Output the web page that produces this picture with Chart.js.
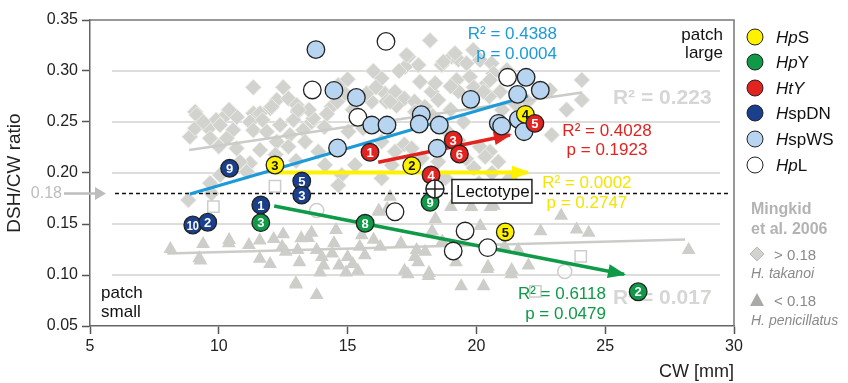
<!DOCTYPE html>
<html><head><meta charset="utf-8">
<script src="https://cdn.jsdelivr.net/npm/chart.js@4"></script>
<style>
html,body{margin:0;padding:0;background:#fff;}
#wrap{position:relative;width:848px;height:383px;overflow:hidden;font-family:"Liberation Sans",Arial,sans-serif;}
#c{position:absolute;left:0;top:0;}
.li{position:absolute;white-space:nowrap;transform:translateY(-50%);line-height:1;}
.dot{position:absolute;width:15px;height:15px;border-radius:50%;border:1.5px solid #222;transform:translate(-50%,-50%);}
</style></head><body>
<div id="wrap"><canvas id="c" width="848" height="383"></canvas><div id="legend"></div></div>
<script>
const FONT = '"Liberation Sans", Arial, sans-serif';

// ---------- data (CW mm, DSH/CW ratio) ----------
const HpS = [[12.18,0.2078],[17.49,0.2072],[21.90,0.2575],[21.12,0.1422]];
const HpS_num = ['3','2','4','5'];
const HpY = [[11.63,0.1513],[15.68,0.1507],[18.20,0.1713],[26.28,0.0836]];
const HpY_num = ['3','8','9','2'];
const HtY = [[15.87,0.2203],[19.10,0.2324],[19.34,0.2186],[18.24,0.1980],[22.27,0.2487]];
const HtY_num = ['1','3','6','4','5'];
const HspDN = [[10.42,0.2046],[13.22,0.1921],[13.22,0.1784],[11.63,0.1686],[8.99,0.1490],[9.57,0.1517]];
const HspDN_num = ['9','5','3','1','10','2'];
const HspWS = [[13.77,0.321],[14.47,0.281],[15.34,0.274],[15.94,0.247],[16.53,0.247],[14.61,0.2245],
  [17.86,0.2572],[17.78,0.248],[18.56,0.247],[18.48,0.2242],[19.78,0.2722],[21.93,0.2938],[21.60,0.2771],
  [22.48,0.2811],[20.85,0.2487],[20.98,0.246],[21.63,0.2526],[21.85,0.2405]];
const HpL = [[16.49,0.329],[13.63,0.2814],[15.40,0.2546],[21.21,0.2938],[16.84,0.162],[19.56,0.1431],[19.10,0.1235],[20.44,0.1268]];
const lectotype = [[18.39,0.1843]];

// Mingkid et al. 2006 background
const takanoi = [[11.34,0.284],[12.5,0.284],[9.08,0.260],[12.25,0.2716],[12.7,0.273],[13.02,0.2667],[11.34,0.2585],[11.6,0.2585],
  [12.0,0.2634],[13.07,0.26],[10.16,0.254],[9.9,0.252],[17.36,0.314],[17.75,0.3059],[17.23,0.304],[18.65,0.3059],[19.04,0.314],
  [19.3,0.311],[16.32,0.2928],[17.81,0.2895],[16.45,0.278],[16.84,0.2797],[17.2,0.273],[17.6,0.27],[18.26,0.2797],[18.52,0.2716],
  [19.23,0.2912],[19.3,0.28],[15.94,0.27],[16.5,0.27],[16.9,0.266],[14.64,0.2863],[14.9,0.278],[14.38,0.265],[17.62,0.26],
  [18.0,0.265],[18.3,0.256],[19.0,0.262],[19.88,0.3206],[20.14,0.3108],[19.62,0.3075],[20.59,0.3075],[20.66,0.2977],
  [19.75,0.2944],[20.4,0.288],[19.9,0.284],[20.92,0.2797],[20.5,0.275],[24.09,0.2912],[24.09,0.2716],[22.86,0.2814],
  [21.18,0.301],[9.14,0.2569],[8.88,0.2356],[9.08,0.2438],[9.6,0.2438],[10.05,0.247],[10.56,0.2422],[10.31,0.234],
  [9.66,0.234],[10.69,0.2242],[10.7,0.255],[11.21,0.250],[11.34,0.242],[11.7,0.252],[11.86,0.2405],[12.38,0.247],
  [12.76,0.2373],[12.9,0.252],[13.28,0.2422],[12.25,0.2307],[12.7,0.2258],[11.21,0.2095],[11.08,0.2013],[10.05,0.198],
  [9.66,0.190],[8.82,0.1735],[9.72,0.180],[10.82,0.211],[11.6,0.2225],[13.6,0.25],[14.1,0.245],[13.35,0.2307],[13.86,0.221],
  [14.12,0.2078],[14.77,0.198],[14.64,0.188],[15.29,0.2078],[16.32,0.1948],[16.71,0.2078],[16.84,0.221],[17.2,0.228],
  [16.58,0.2438],[15.6,0.2438],[15.03,0.2405],[16.32,0.2307],[17.49,0.2242],[17.88,0.2144],[18.52,0.211],[22.92,0.2373],
  [20.14,0.2258],[20.53,0.221],[20.34,0.216],[20.85,0.211],[19.9,0.205],[20.6,0.200],[21.3,0.195],[18.8,0.195],[20.1,0.190],
  [17.29,0.3157],[18.72,0.309],[19.17,0.3173],[20.53,0.2912],[20.27,0.2797],[18.2,0.33],[15.74,0.2781],[16.1,0.284],
  [16.65,0.270],[13.67,0.2536],[13.5,0.262],[14.2,0.258],[14.6,0.27],[15.2,0.262],[15.5,0.255],[12.05,0.265],[13.09,0.2618],
  [10.4,0.262],[9.4,0.25],[10.0,0.226],[12.2,0.218],[13.0,0.212],[18.9,0.24],[19.5,0.25],[19.3,0.232],[21.0,0.262],
  [21.5,0.268],[22.0,0.27],[23.5,0.262],[19.6,0.214],[19.0,0.285],[18.4,0.288],[17.0,0.30],[16.0,0.30],[15.0,0.292]];
const penicillatus = [[8.12,0.1254],[9.39,0.1305],[9.29,0.1143],[10.39,0.1311],[11.17,0.1295],[11.59,0.1338],[12.13,0.1352],
  [11.59,0.116],[11.99,0.1109],[12.46,0.1278],[12.6,0.1227],[13.06,0.1244],[13.13,0.1126],[13.47,0.1362],[13.6,0.1413],
  [13.8,0.1244],[14.0,0.1177],[14.07,0.1092],[13.93,0.1025],[14.4,0.121],[14.47,0.1311],[14.67,0.1092],[15.0,0.1177],
  [15.2,0.1109],[15.4,0.1041],[15.47,0.1278],[15.67,0.1193],[16.01,0.1345],[16.27,0.1278],[16.21,0.1632],[16.54,0.1649],
  [17.07,0.1311],[17.21,0.1041],[17.34,0.1007],[17.61,0.1177],[17.68,0.1244],[17.74,0.1126],[18.01,0.1227],[18.14,0.099],
  [18.41,0.1548],[18.28,0.143],[18.68,0.1328],[19.01,0.1666],[19.21,0.1126],[19.41,0.0889],[19.81,0.1666],[20.15,0.148],
  [20.28,0.0889],[20.42,0.1058],[20.55,0.1666],[21.09,0.1278],[21.62,0.1244],[22.02,0.1092],[21.35,0.1007],[22.49,0.143],
  [23.29,0.1582],[23.89,0.1446],[24.36,0.1413],[28.24,0.1244],[13.8,0.0805],[13.0,0.0906],[14.94,0.1024],[16.65,0.1768],
  [16.22,0.162],[14.55,0.1441],[15.55,0.139],[9.24,0.1164],[12.99,0.0918],[10.4,0.1343],[12.5,0.14],[13.2,0.136],
  [20.68,0.168],[21.37,0.105],[20.45,0.108],[18.16,0.102]];
const mingkidSquares = [[9.79,0.167],[12.18,0.187],[24.05,0.1183],[22.29,0.0839]];
const mingkidCircles = [[13.8,0.1632],[23.43,0.1034]];

// regression / trend lines (start, end)
const fitHspWS = [[8.88,0.1794],[22.0,0.2755]];
const fitHtY = [[16.19,0.2105],[21.30,0.2373]];
const fitHpS = [[12.18,0.2005],[22.0,0.2005]];
const fitHpY = [[12.15,0.1676],[25.73,0.1007]];
const trendTakanoi = [[8.85,0.2225],[24.1,0.279]];
const trendPenicillatus = [[8.0,0.121],[28.1,0.1348]];
const threshold = [[5.97,0.18],[29.85,0.18]];

const xTicks = [5,10,15,20,25,30];
const yTicks = [0.05,0.10,0.15,0.20,0.25,0.30,0.35];
const gridY = [0.10,0.15,0.20,0.25,0.30];

const C = {yellow:'#fff200', green:'#0f9a48', red:'#e2231f', dn:'#1a3f8d', ws:'#b7d4f0', blue:'#1d9ad8', gray:'#d2d2ce'};

const pts = a => a.map(([x,y]) => ({x,y}));

function circleDs(data, color, nums, numColor, order){
  return {data:pts(data), pointStyle:'circle', pointRadius:8.8, pointHoverRadius:8.8, backgroundColor:color,
    borderColor:'#222', borderWidth:1.3, nums, numColor, order};
}
function lineDs(data, color, width, order, extra){
  return Object.assign({data:pts(data), showLine:true, pointRadius:0, pointHoverRadius:0, borderColor:color,
    borderWidth:width, fill:false, order}, extra||{});
}

const datasets = [
  lineDs(trendTakanoi,'#cbcbc8',2.5,97),
  lineDs(trendPenicillatus,'#cbcbc8',2.5,97),
  {data:pts(takanoi), pointStyle:'rectRot', pointRadius:8, backgroundColor:C.gray, borderColor:'#ebebe8', borderWidth:1, order:100},
  {data:pts(penicillatus), pointStyle:'triangle', pointRadius:8, backgroundColor:'#cdcdc9', borderWidth:0, borderColor:'#cdcdc9', order:99},
  {data:pts(mingkidSquares), pointStyle:'rect', pointRadius:8, backgroundColor:'rgba(255,255,255,0.6)', borderColor:'#cdcdcd', borderWidth:1.5, order:98},
  {data:pts(mingkidCircles), pointStyle:'circle', pointRadius:7, backgroundColor:'rgba(255,255,255,0.6)', borderColor:'#cdcdcd', borderWidth:1.5, order:98},
  lineDs(threshold,'#111',1.5,96,{borderDash:[4,3]}),
  lineDs(fitHspWS,C.blue,3,90),
  lineDs(fitHpS,C.yellow,4,89,{arrow:true}),
  lineDs(fitHtY,C.red,3.5,88,{arrow:true}),
  lineDs(fitHpY,C.green,3.5,87,{arrow:true}),
  circleDs(HpL,'#ffffff',null,null,50),
  circleDs(HspWS,C.ws,null,null,49),
  circleDs(HspDN,C.dn,HspDN_num,'#fff',48),
  circleDs(HpY,C.green,HpY_num,'#fff',47),
  circleDs(HpS,C.yellow,HpS_num,'#111',46),
  circleDs(HtY,C.red,HtY_num,'#fff',45),
  {data:pts(lectotype), pointStyle:'circle', pointRadius:9, backgroundColor:'#fff', borderColor:'#222', borderWidth:1.5, order:10, lecto:true}
];

const texts = [
  {x:23.13,y:0.3363,t:'R² = 0.4388',c:C.blue,a:'right'},
  {x:23.13,y:0.3167,t:'p = 0.0004',c:C.blue,a:'right'},
  {x:25.07,y:0.2412,t:'R² = 0.4028',c:C.red,a:'center'},
  {x:25.07,y:0.2225,t:'p = 0.1923',c:C.red,a:'center'},
  {x:24.29,y:0.1902,t:'R² = 0.0002',c:'#f5e400',a:'center'},
  {x:24.29,y:0.1706,t:'p = 0.2747',c:'#f5e400',a:'center'},
  {x:25.03,y:0.0814,t:'R² = 0.6118',c:C.green,a:'right'},
  {x:25.03,y:0.0618,t:'p = 0.0479',c:C.green,a:'right'},
  {x:29.57,y:0.3353,t:'patch',c:'#111',a:'right'},
  {x:29.57,y:0.3176,t:'large',c:'#111',a:'right'},
  {x:5.43,y:0.0824,t:'patch',c:'#111',a:'left'},
  {x:5.43,y:0.0637,t:'small',c:'#111',a:'left'}
];
const bigTexts = [
  {x:25.30,y:0.2735,t:'R² = 0.223'},
  {x:25.30,y:0.0775,t:'R² = 0.017'}
];

const deco = {
  id:'deco',
  beforeDatasetsDraw(chart){
    const {ctx, chartArea:a, scales:{x,y}} = chart;
    ctx.save();
    ctx.strokeStyle='#dddddb'; ctx.lineWidth=2;
    gridY.forEach(v=>{const py=y.getPixelForValue(v); ctx.beginPath(); ctx.moveTo(a.left+22,py); ctx.lineTo(a.right-14,py); ctx.stroke();});
    ctx.strokeStyle='#777'; ctx.lineWidth=1.5;
    ctx.beginPath(); ctx.moveTo(a.left,a.top); ctx.lineTo(a.right,a.top); ctx.lineTo(a.right,a.bottom); ctx.stroke();
    ctx.font='bold 21px '+FONT; ctx.fillStyle='#d6d6d4'; ctx.textAlign='left'; ctx.textBaseline='middle';
    bigTexts.forEach(b=>ctx.fillText(b.t, x.getPixelForValue(b.x), y.getPixelForValue(b.y)));
    ctx.restore();
  },
  afterDatasetDraw(chart,args){
    const ds = chart.data.datasets[args.index];
    const ctx = chart.ctx; const els = args.meta.data;
    ctx.save();
    if (ds.arrow && els.length>1){
      const p0=els[els.length-2], p1=els[els.length-1];
      const ang=Math.atan2(p1.y-p0.y,p1.x-p0.x), L=16, W=7;
      ctx.fillStyle=ds.borderColor; ctx.beginPath();
      ctx.moveTo(p1.x+2,p1.y+2*Math.sin(ang));
      ctx.lineTo(p1.x-L*Math.cos(ang)-W*Math.sin(ang), p1.y-L*Math.sin(ang)+W*Math.cos(ang));
      ctx.lineTo(p1.x-L*Math.cos(ang)+W*Math.sin(ang), p1.y-L*Math.sin(ang)-W*Math.cos(ang));
      ctx.closePath(); ctx.fill();
    }
    if (ds.nums){
      ctx.font='bold 13px '+FONT; ctx.fillStyle=ds.numColor; ctx.textAlign='center'; ctx.textBaseline='middle';
      els.forEach((e,i)=>{
        const t=ds.nums[i];
        if (t.length>1){ ctx.save(); ctx.translate(e.x,e.y+1); ctx.scale(0.85,1); ctx.fillText(t,0,0); ctx.restore(); }
        else ctx.fillText(t, e.x, e.y+1);
      });
    }
    if (ds.lecto){
      const e=els[0]; const r=9;
      ctx.strokeStyle='#222'; ctx.lineWidth=1.5; ctx.beginPath();
      ctx.moveTo(e.x-r,e.y); ctx.lineTo(e.x+r,e.y); ctx.moveTo(e.x,e.y-r); ctx.lineTo(e.x,e.y+r); ctx.stroke();
      ctx.fillStyle='#fff'; ctx.fillRect(e.x+17,e.y-9.5,80,23.5); ctx.strokeRect(e.x+17,e.y-9.5,80,23.5);
      ctx.fillStyle='#111'; ctx.font='17px '+FONT; ctx.textAlign='left'; ctx.textBaseline='middle';
      ctx.fillText('Lectotype', e.x+21, e.y+3);
    }
    ctx.restore();
  },
  afterDatasetsDraw(chart){
    const {ctx, scales:{x,y}} = chart;
    ctx.save(); ctx.font='17px '+FONT; ctx.textBaseline='middle';
    texts.forEach(t=>{ctx.fillStyle=t.c; ctx.textAlign=t.a; ctx.fillText(t.t, x.getPixelForValue(t.x), y.getPixelForValue(t.y));});
    ctx.restore();
  },
  afterDraw(chart){
    const {ctx, chartArea:a, scales:{y}} = chart;
    const py = y.getPixelForValue(0.18);
    ctx.save();
    ctx.fillStyle='#bdbdbb'; ctx.strokeStyle='#bdbdbb'; ctx.font='16px '+FONT; ctx.textAlign='right'; ctx.textBaseline='middle';
    ctx.fillText('0.18', a.left-28, py);
    ctx.lineWidth=2.5; ctx.beginPath(); ctx.moveTo(a.left-26,py); ctx.lineTo(a.left+7,py); ctx.stroke();
    ctx.beginPath(); ctx.moveTo(a.left+16,py); ctx.lineTo(a.left+5,py-6.5); ctx.lineTo(a.left+5,py+6.5); ctx.closePath(); ctx.fill();
    ctx.restore();
  }
};

new Chart(document.getElementById('c'), {
  type:'scatter',
  data:{datasets},
  plugins:[deco],
  options:{
    responsive:false, animation:false, events:[],
    layout:{padding:{top:20,right:114,left:0,bottom:0}},
    plugins:{legend:{display:false}, tooltip:{enabled:false}},
    scales:{
      x:{type:'linear', min:5, max:30, afterBuildTicks:s=>{s.ticks=xTicks.map(v=>({value:v}));},
        ticks:{color:'#222', font:{family:FONT,size:16}, padding:3, maxRotation:0},
        grid:{drawOnChartArea:false, drawTicks:true, tickLength:8, tickColor:'#555', tickWidth:1.5},
        border:{color:'#666', width:1.5},
        title:{display:true, text:'CW [mm]', align:'end', color:'#222', font:{family:FONT,size:18}, padding:{top:0,bottom:0}},
        afterFit:s=>{s.height=57;}},
      y:{type:'linear', min:0.05, max:0.35, afterBuildTicks:s=>{s.ticks=yTicks.map(v=>({value:v}));},
        ticks:{color:'#222', font:{family:FONT,size:16}, padding:4, callback:v=>Number(v).toFixed(2)},
        grid:{drawOnChartArea:false, drawTicks:true, tickLength:8, tickColor:'#555', tickWidth:1.5},
        border:{color:'#666', width:1.5},
        title:{display:true, text:'DSH/CW ratio', color:'#222', font:{family:FONT,size:19}, padding:{top:3,bottom:0}},
        afterFit:s=>{s.width=90;}}
    }
  }
});

// ---------- legend ----------
const legendItems = [
  {html:'<i>Hp</i>S', color:C.yellow},
  {html:'<i>Hp</i>Y', color:C.green},
  {html:'<i>HtY</i>', color:C.red},
  {html:'<i>H</i>spDN', color:C.dn},
  {html:'<i>H</i>spWS', color:C.ws},
  {html:'<i>Hp</i>L', color:'#fff'}
];
const legendY = [37,62,88,113,139,165];
const lg = document.getElementById('legend');
let h='';
legendItems.forEach((it,i)=>{
  h+=`<div class="dot" style="left:755px;top:${legendY[i]}px;background:${it.color}"></div>`;
  h+=`<div class="li" style="left:776px;top:${legendY[i]}px;font-size:17px;color:#111">${it.html}</div>`;
});
h+=`<div class="li" style="left:751px;top:209px;font-size:16px;font-weight:bold;color:#b3b3b3">Mingkid</div>`;
h+=`<div class="li" style="left:751px;top:229px;font-size:16px;font-weight:bold;color:#b3b3b3">et al. 2006</div>`;
h+=`<svg style="position:absolute;left:749px;top:246px" width="16" height="16"><polygon points="8,1 15,8 8,15 1,8" fill="#d2d2ce" stroke="#b9b9b6" stroke-width="1"/></svg>`;
h+=`<div class="li" style="left:774px;top:254px;font-size:15px;color:#8a8a8a">&gt; 0.18</div>`;
h+=`<div class="li" style="left:751px;top:273px;font-size:14px;font-style:italic;color:#8a8a8a">H. takanoi</div>`;
h+=`<svg style="position:absolute;left:749px;top:292px" width="16" height="15"><polygon points="8,1 15,14 1,14" fill="#a9a9a6"/></svg>`;
h+=`<div class="li" style="left:774px;top:300px;font-size:15px;color:#8a8a8a">&lt; 0.18</div>`;
h+=`<div class="li" style="left:751px;top:320px;font-size:14px;font-style:italic;color:#8a8a8a">H. penicillatus</div>`;
lg.innerHTML=h;
</script>
</body></html>
